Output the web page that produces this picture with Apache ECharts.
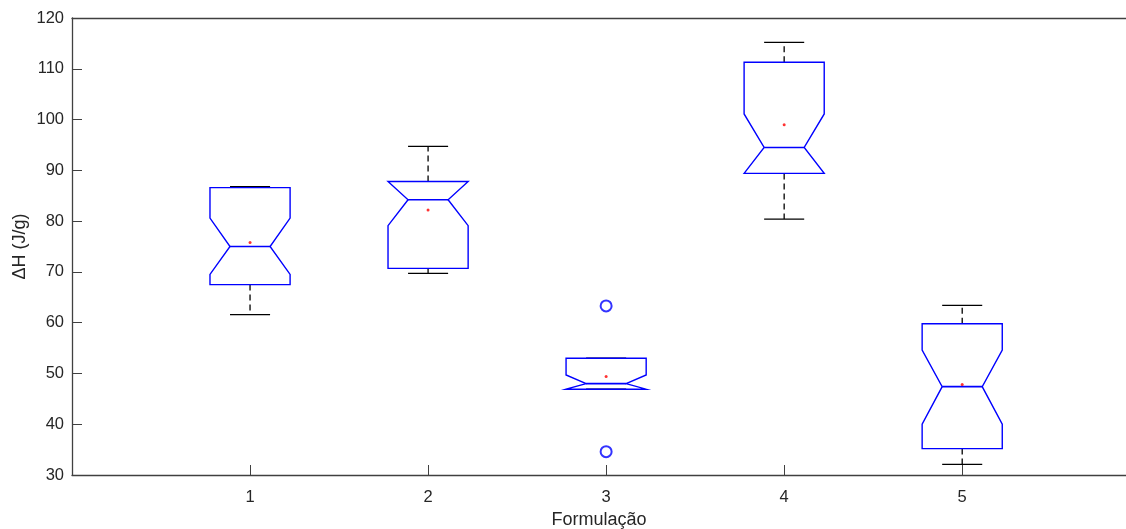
<!DOCTYPE html>
<html><head><meta charset="utf-8">
<script src="https://cdn.jsdelivr.net/npm/echarts@6/dist/echarts.min.js"></script>
<style>html,body{margin:0;padding:0;background:#fff}#c{width:1126px;height:529px}</style>
</head><body><div id="c"></div>
<script>
const categories = [1, 2, 3, 4, 5];
const q1Values      = [67.5, 70.7, 46.9, 89.4, 35.2];
const notchLow      = [69.5, 79.1, 46.9, 89.4, 40.0];
const medianValues  = [75.0, 84.2, 48.0, 94.5, 47.4];
const notchHigh     = [80.6, 87.8, 49.7, 101.1, 54.6];
const q3Values      = [86.6, 87.8, 53.0, 111.3, 59.8];
const whiskerLow    = [61.6, 69.7, 46.9, 80.4, 32.1];
const whiskerHigh   = [86.8, 94.7, 53.0, 115.2, 63.4];
const meanValues    = [75.8, 82.2, 49.4, 99.0, 47.8];
const outliers      = [[3, 63.3], [3, 34.6]];
const yTicks = [30, 40, 50, 60, 70, 80, 90, 100, 110, 120];

const boxData = categories.map((c, i) => [c, q1Values[i], notchLow[i], medianValues[i], notchHigh[i], q3Values[i], whiskerLow[i], whiskerHigh[i]]);
const meanData = categories.map((c, i) => [c, meanValues[i]]);

const HALF = 0.225, INNER = 0.1125;
const BLUE = '#0000ff';
const XMAX = 5.92;

function renderBox(params, api) {
  const x = api.value(0);
  const q1 = api.value(1), nlo = api.value(2), med = api.value(3), nhi = api.value(4), q3 = api.value(5), wlo = api.value(6), whi = api.value(7);
  const P = (dx, v) => api.coord([x + dx, v]);
  const poly = [P(-HALF, q1), P(-HALF, nlo), P(-INNER, med), P(-HALF, nhi), P(-HALF, q3),
                P(HALF, q3), P(HALF, nhi), P(INNER, med), P(HALF, nlo), P(HALF, q1)];
  const seg = (a, b, style) => ({type: 'line', shape: {x1: a[0], y1: a[1], x2: b[0], y2: b[1]}, style});
  const children = [];
  const dash = {stroke: '#000', lineWidth: 1.3, lineDash: [6, 4]};
  const solid = {stroke: '#000', lineWidth: 1.3};
  if (whi > q3) children.push(seg(P(0, q3), P(0, whi), dash));
  if (wlo < q1) children.push(seg(P(0, q1), P(0, wlo), dash));
  children.push(seg(P(-INNER, whi), P(INNER, whi), solid));
  children.push(seg(P(-INNER, wlo), P(INNER, wlo), solid));
  children.push({type: 'polygon', shape: {points: poly}, style: {fill: 'none', stroke: BLUE, lineWidth: 1.4}});
  children.push(seg(P(-INNER, med), P(INNER, med), {stroke: BLUE, lineWidth: 1.6}));
  return {type: 'group', children};
}

const tickFont = {fontFamily: 'Liberation Sans', fontSize: 16.5, color: '#262626'};
const nameFont = {fontFamily: 'Liberation Sans', fontSize: 18, color: '#262626'};

const chart = echarts.init(document.getElementById('c'));
chart.setOption({
  animation: false,
  grid: {left: 72, top: 18, right: 0, bottom: 54, outerBoundsMode: 'none', containLabel: false},
  xAxis: [{
    type: 'value', min: 0, max: XMAX, interval: 1,
    name: 'Formulação', nameLocation: 'middle', nameGap: 36, nameMoveOverlap: false,
    nameTextStyle: nameFont,
    axisLine: {lineStyle: {color: '#404040', width: 1.3}},
    axisTick: {inside: true, length: 10, lineStyle: {color: '#404040'}},
    axisLabel: Object.assign({margin: 14, showMaxLabel: false,
      formatter: v => categories.includes(v) ? String(v) : ''}, tickFont),
    splitLine: {show: false}
  }, {
    type: 'value', min: 0, max: XMAX, position: 'top',
    axisLine: {show: true, lineStyle: {color: '#404040', width: 1.3}},
    axisTick: {show: false}, axisLabel: {show: false}, splitLine: {show: false}
  }],
  yAxis: {
    type: 'value', min: yTicks[0], max: yTicks[yTicks.length - 1], interval: 10,
    name: 'ΔH (J/g)', nameLocation: 'middle', nameGap: 43, nameRotate: 90, nameMoveOverlap: false,
    nameTextStyle: nameFont,
    axisLine: {show: true, lineStyle: {color: '#404040', width: 1.3}},
    axisTick: {show: true, inside: true, length: 10, lineStyle: {color: '#404040'}},
    axisLabel: Object.assign({margin: 8}, tickFont),
    splitLine: {show: false}
  },
  series: [
    {type: 'custom', renderItem: renderBox, data: boxData, encode: {x: 0, y: [1, 6, 7]}, z: 2},
    {type: 'scatter', data: meanData, symbol: 'circle', symbolSize: 3, itemStyle: {color: '#ff0000'}, z: 3},
    {type: 'scatter', data: outliers, symbol: 'emptyCircle', symbolSize: 11, itemStyle: {color: BLUE, borderColor: BLUE, borderWidth: 1.2}, z: 3}
  ]
});
</script></body></html>
